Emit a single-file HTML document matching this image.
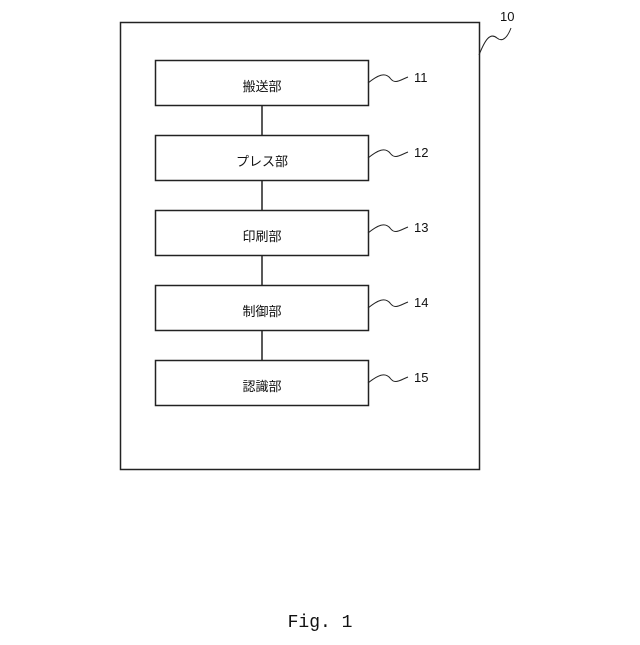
<!DOCTYPE html>
<html><head><meta charset="utf-8"><style>
body{margin:0;background:#fff}
text{font-family:"Liberation Sans","Noto Sans CJK JP",sans-serif;font-size:13px;fill:#111}
</style></head><body>
<svg width="640" height="640" viewBox="0 0 640 640" xmlns="http://www.w3.org/2000/svg">
<g fill="none" stroke="#222" stroke-width="1.5">
<rect x="120.5" y="22.5" width="359" height="447"/>
<path d="M479 55 C485 40 490 32 497 38 C503 43 508 36 511 28" stroke-width="1"/>
<g id="b">
<rect x="155.5" y="60.5" width="213" height="45"/>
<path d="M368 83 C378 75 385 72 390 78 C395 85 400 80 408 77" stroke-width="1"/>
</g>
<use href="#b" y="75"/><use href="#b" y="150"/><use href="#b" y="225"/><use href="#b" y="300"/>
<path d="M262 106V136M262 181V211M262 256V286M262 331V361"/>
</g>
<text x="500" y="21">10</text>
<text x="414" y="82">11</text>
<text x="414" y="157">12</text>
<text x="414" y="232">13</text>
<text x="414" y="307">14</text>
<text x="414" y="382">15</text>
<g text-anchor="middle">
<text x="262" y="91">搬送部</text>
<text x="262" y="166">プレス部</text>
<text x="262" y="241">印刷部</text>
<text x="262" y="316">制御部</text>
<text x="262" y="391">認識部</text>
<text x="320" y="627" style="font-family:'Liberation Mono',monospace;font-size:18px">Fig. 1</text>
</g>
</svg>
</body></html>
